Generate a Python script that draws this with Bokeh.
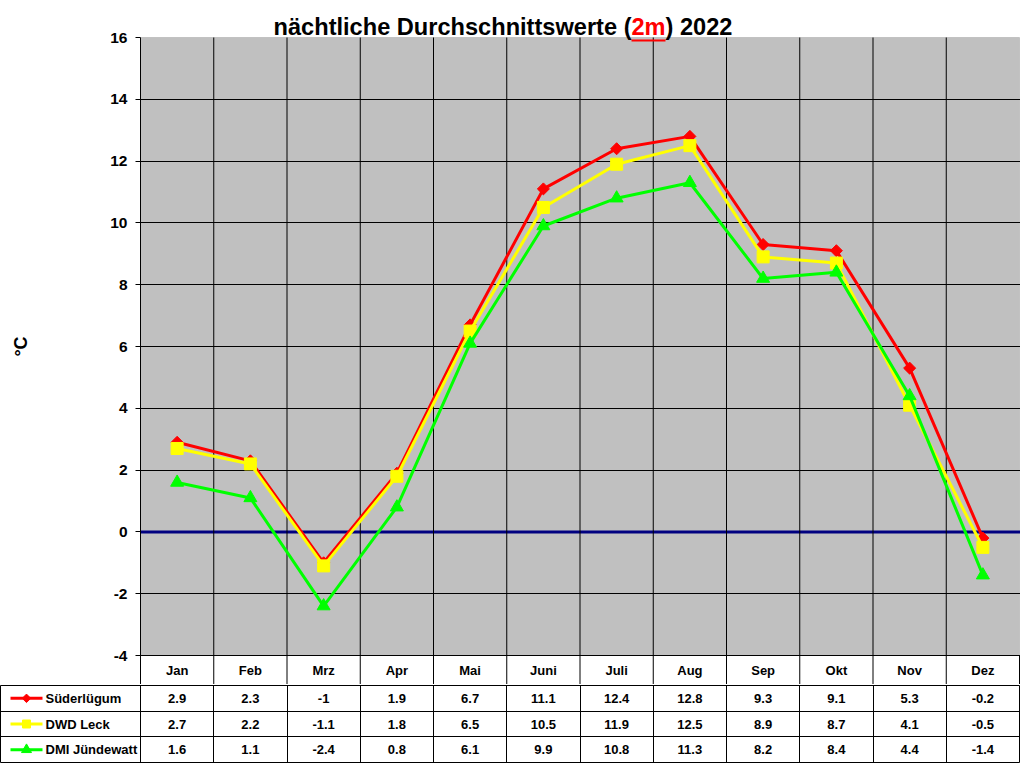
import math
from bokeh.plotting import figure
from bokeh.models import Range1d, FixedTicker, Span, BoxAnnotation, Grid
from bokeh.layouts import column
from bokeh.embed import file_html
from bokeh.resources import INLINE
from bokeh.core.properties import value

# ---------------- data ----------------
months = ["Jan", "Feb", "Mrz", "Apr", "Mai", "Juni", "Juli", "Aug", "Sep", "Okt", "Nov", "Dez"]
suederluegum = [2.9, 2.3, -1, 1.9, 6.7, 11.1, 12.4, 12.8, 9.3, 9.1, 5.3, -0.2]
dwd_leck = [2.7, 2.2, -1.1, 1.8, 6.5, 10.5, 11.9, 12.5, 8.9, 8.7, 4.1, -0.5]
dmi_juendewatt = [1.6, 1.1, -2.4, 0.8, 6.1, 9.9, 10.8, 11.3, 8.2, 8.4, 4.4, -1.4]
series_names = ["Süderlügum", "DWD Leck", "DMI Jündewatt"]
y_ticks = [-4, -2, 0, 2, 4, 6, 8, 10, 12, 14, 16]
title_parts = ["nächtliche Durchschnittswerte (", "2m", ") 2022"]
y_label = "°C"

# ---------------- layout constants ----------------
FONT = "Liberation Sans"
W = 1020
ML = 140
FIG_TOP = 8            # empty strip above the frame
TOP_PX = 37            # page y of the plot-area top
PLOT_PX = 618          # height of the plot area
HEAD_BOTTOM = 684      # page y of the header-row bottom
CW = (W - ML - 1) / 12.0            # px per category
PPU = PLOT_PX / 20.0                # px per degree
Y_MIN, Y_MAX = y_ticks[0], y_ticks[-1]

xc = [i + 0.5 for i in range(12)]
bounds = list(range(13))

def dx(px):   # page px -> category units
    return (px - ML) / CW

def dy(py):   # page px -> degrees
    return Y_MAX - (py - TOP_PX) / PPU

Y_BOT, Y_TOP = dy(HEAD_BOTTOM), dy(FIG_TOP)

p = figure(width=W, height=HEAD_BOTTOM, x_range=Range1d(0, 12 + 1 / CW), y_range=Range1d(Y_BOT, Y_TOP),
           output_backend="svg", toolbar_location=None, frame_align=False,
           x_axis_location=None,
           min_border_left=ML, min_border_right=0, min_border_top=FIG_TOP, min_border_bottom=0)
p.background_fill_color = "white"
p.border_fill_color = "white"
p.outline_line_color = None

# plot area (grey)
p.add_layout(BoxAnnotation(left=0, right=12, bottom=Y_MIN, top=Y_MAX, fill_color="#C0C0C0", fill_alpha=1,
                           line_color="#808080", line_width=1, level="image"))

# grids
p.xgrid.visible = False
p.ygrid.ticker = FixedTicker(ticks=y_ticks[:-1])
p.ygrid.grid_line_color = "black"
p.ygrid.grid_line_width = 1
p.segment(x0=bounds[1:-1], y0=[Y_BOT] * 11, x1=bounds[1:-1], y1=[Y_MAX] * 11, line_color="black", line_width=1)
p.segment(x0=[bounds[-1]], y0=[Y_BOT], x1=[bounds[-1]], y1=[Y_MIN], line_color="black", line_width=1)

# header row (month names)
p.text(x=xc, y=[dy(670)] * 12, text=months, text_align="center", text_baseline="middle",
       text_font=value(FONT), text_font_style="bold", text_font_size="13px", text_color="black")

# y axis
p.yaxis.ticker = FixedTicker(ticks=y_ticks)
p.yaxis.bounds = (Y_BOT, Y_MAX)
p.yaxis.major_label_overrides = {t: str(t) for t in y_ticks}
p.yaxis.major_tick_out = 5
p.yaxis.major_tick_in = 0
p.yaxis.major_tick_line_color = "black"
p.yaxis.axis_line_color = "black"
p.yaxis.major_label_standoff = 8
p.yaxis.major_label_text_font = FONT
p.yaxis.major_label_text_font_style = "bold"
p.yaxis.major_label_text_font_size = "15.5px"
p.yaxis.major_label_text_color = "black"
p.yaxis.axis_label = y_label
p.yaxis.axis_label_standoff = 76
p.yaxis.axis_label_text_font = FONT
p.yaxis.axis_label_text_font_style = "bold"
p.yaxis.axis_label_text_font_size = "18px"
p.yaxis.axis_label_text_color = "black"

# zero line
p.add_layout(Span(location=0, dimension="width", line_color="#000080", line_width=3, level="underlay"))

styles = [
    (suederluegum, "#FF0000", "square", 8.5, math.pi / 4, 6, math.pi / 4),
    (dwd_leck, "#FFFF00", "square", 12, 0, 8, 0),
    (dmi_juendewatt, "#00FF00", "triangle", 13, 0, 10, 0),
]
for vals, col, mk, sz, ang, _, _ in styles:
    p.line(xc, vals, line_color=col, line_width=3)
    p.scatter(xc, vals, marker=mk, size=sz, angle=ang, fill_color=col, line_color=col)

# title (multi coloured), drawn inside the frame above the grey plot area
x_a = dx(631)
w_2m = 34 / CW
y_mid = dy(26.8)
tkw = dict(text_font=value(FONT), text_font_style="bold", text_font_size="23.6px", text_baseline="middle")
p.text(x=[x_a], y=[y_mid], text=[title_parts[0]], text_align="right", text_color="black", **tkw)
p.text(x=[x_a], y=[y_mid], text=[title_parts[1]], text_align="left", text_color="#FF0000", **tkw)
p.text(x=[x_a + w_2m], y=[y_mid], text=[title_parts[2]], text_align="left", text_color="black", **tkw)
p.add_layout(BoxAnnotation(left=x_a, right=x_a + w_2m, top=dy(39), bottom=dy(41),
                           fill_color="#FF0000", fill_alpha=1, line_alpha=0))

# ---------------- data table ----------------
t = figure(width=W, height=79, x_range=Range1d(-ML / CW, 12), y_range=Range1d(0, 3),
           output_backend="svg", toolbar_location=None, frame_align=False,
           x_axis_location=None, y_axis_location=None,
           min_border_left=0, min_border_right=1, min_border_top=1, min_border_bottom=1)
t.background_fill_color = "white"
t.border_fill_color = "white"
t.outline_line_color = "black"
t.outline_line_width = 1
t.grid.visible = False
t.add_layout(Grid(dimension=0, ticker=FixedTicker(ticks=bounds), grid_line_color="black"))
t.add_layout(Grid(dimension=1, ticker=FixedTicker(ticks=[1, 2]), grid_line_color="black"))

rows = [2.5, 1.5, 0.5]
txt = dict(text_font=value(FONT), text_font_style="bold", text_font_size="13px", text_color="black",
           text_baseline="middle")
kx0, kx1, kxm, kxt = dx(10), dx(42), dx(26), dx(45)
for (vals, col, mk, sz, ang, ksz, kang), name, ry in zip(styles, series_names, rows):
    t.text(x=xc, y=[ry] * 12, text=[f"{v:g}" for v in vals], text_align="center", **txt)
    t.line([kx0, kx1], [ry, ry], line_color=col, line_width=3)
    t.scatter([kxm], [ry], marker=mk, size=ksz, angle=kang, fill_color=col, line_color=col)
    t.text(x=[kxt], y=[ry], text=[name], text_align="left", **txt)

layout = column(p, t, spacing=0)
open("out.html", "w").write(file_html(layout, INLINE, title="nächtliche Durchschnittswerte 2022"))
